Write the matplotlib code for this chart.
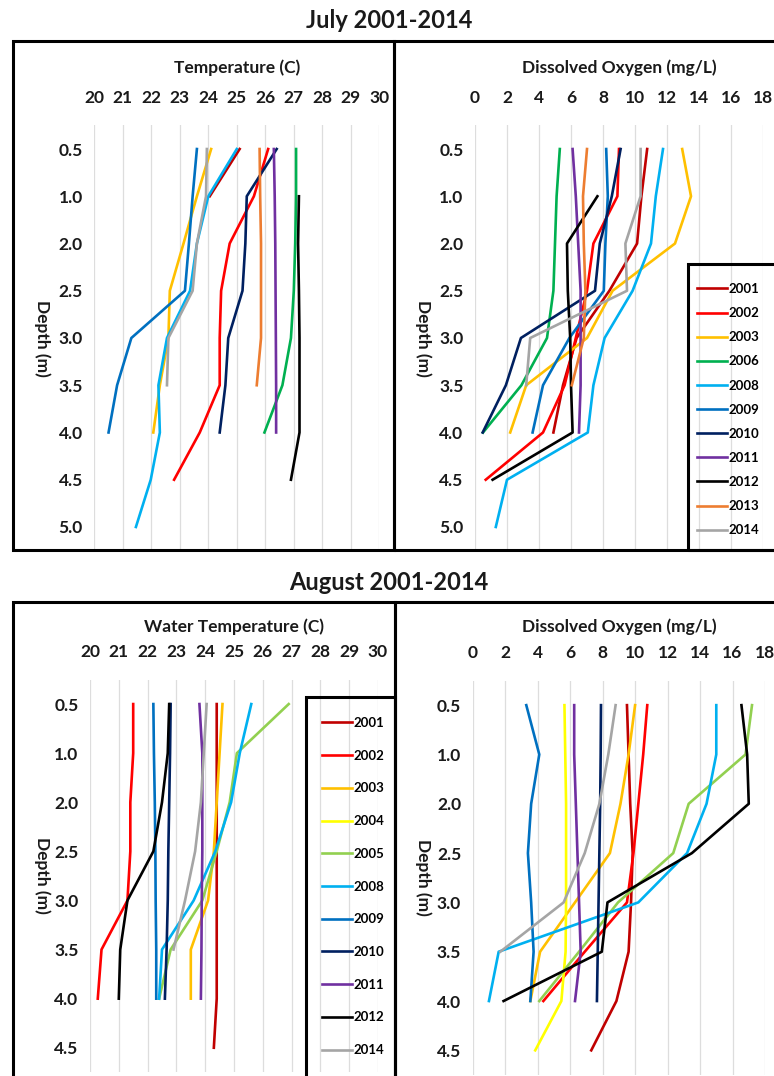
import numpy as np
import matplotlib
matplotlib.use("Agg")
import matplotlib.pyplot as plt
from matplotlib.patches import Rectangle

plt.rcParams['font.family'] = ['Lato', 'DejaVu Sans']
plt.rcParams['font.weight'] = 'bold'

nan = np.nan
W, H = 774, 1076

# --- data -------------------------------------------------------------
july_depth = ["0.5", "1.0", "2.0", "2.5", "3.0", "3.5", "4.0", "4.5", "5.0"]
aug_depth = ["0.5", "1.0", "2.0", "2.5", "3.0", "3.5", "4.0", "4.5"]

july_years = [2001, 2002, 2003, 2006, 2008, 2009, 2010, 2011, 2012, 2013, 2014]
aug_years = [2001, 2002, 2003, 2004, 2005, 2008, 2009, 2010, 2011, 2012, 2014]

colors = {2001: '#C00000', 2002: '#FF0000', 2003: '#FFC000', 2004: '#FFFF00',
          2005: '#92D050', 2006: '#00B050', 2008: '#00B0F0', 2009: '#0070C0',
          2010: '#002060', 2011: '#7030A0', 2012: '#000000', 2013: '#ED7D31',
          2014: '#A5A5A5'}

# July temperature (C)
jt_2001 = [25.1, 24.05, nan, nan, nan, nan, nan, nan, nan]
jt_2002 = [26.1, 25.6, 24.75, 24.45, 24.4, 24.4, 23.7, 22.8, nan]
jt_2003 = [24.1, 23.6, 23.13, 22.65, 22.6, 22.3, 22.07, nan, nan]
jt_2006 = [27.08, 27.08, 27.05, 27.0, 26.9, 26.6, 25.97, nan, nan]
jt_2008 = [25.0, 24.0, 23.6, 23.36, 22.55, 22.25, 22.3, 21.98, 21.46]
jt_2009 = [23.6, 23.45, 23.32, 23.18, 21.3, 20.8, 20.5, nan, nan]
jt_2010 = [26.4, 25.35, 25.3, 25.2, 24.7, 24.6, 24.4, nan, nan]
jt_2011 = [26.3, 26.33, 26.35, 26.36, 26.37, 26.38, 26.38, nan, nan]
jt_2012 = [nan, 27.18, 27.15, 27.18, 27.2, 27.2, 27.2, 26.9, nan]
jt_2013 = [25.8, 25.82, 25.85, 25.85, 25.85, 25.7, nan, nan, nan]
jt_2014 = [23.95, 23.92, 23.6, 23.45, 22.6, 22.55, nan, nan, nan]

# July dissolved oxygen (mg/L)
jd_2001 = [10.76, 10.4, 10.13, 8.4, 6.35, 5.5, 4.9, nan, nan]
jd_2002 = [9.0, 8.9, 7.4, 7.0, 6.3, 5.6, 4.25, 0.67, nan]
jd_2003 = [12.95, 13.5, 12.5, 8.6, 7.0, 3.2, 2.2, nan, nan]
jd_2006 = [5.3, 5.1, 5.0, 4.9, 4.5, 2.9, 0.5, nan, nan]
jd_2008 = [11.75, 11.3, 11.0, 9.85, 8.1, 7.4, 7.05, 2.0, 1.3]
jd_2009 = [8.2, 8.3, 8.15, 8.05, 5.9, 4.25, 3.6, nan, nan]
jd_2010 = [9.1, 8.55, 7.8, 7.5, 2.87, 1.93, 0.48, nan, nan]
jd_2011 = [6.1, 6.3, 6.45, 6.6, 6.6, 6.6, 6.5, nan, nan]
jd_2012 = [nan, 7.65, 5.75, 5.8, 5.95, 6.0, 6.1, 1.1, nan]
jd_2013 = [7.0, 6.75, 6.8, 6.9, 6.8, 6.05, nan, nan, nan]
jd_2014 = [10.35, 10.35, 9.4, 9.5, 3.45, 3.2, nan, nan, nan]

# August water temperature (C)
at_2001 = [24.4, 24.4, 24.4, 24.4, 24.4, 24.4, 24.4, 24.3]
at_2002 = [21.5, 21.5, 21.4, 21.4, 21.3, 20.4, 20.27, nan]
at_2003 = [24.6, 24.5, 24.4, 24.3, 24.1, 23.5, 23.5, nan]
at_2004 = [nan, nan, nan, nan, nan, nan, nan, nan]
at_2005 = [26.9, 25.1, 24.85, 24.4, 23.9, 22.8, 22.4, nan]
at_2008 = [25.6, 25.2, 24.9, 24.35, 23.6, 22.5, 22.4, nan]
at_2009 = [22.2, 22.22, 22.25, 22.27, 22.28, 22.3, 22.3, nan]
at_2010 = [22.8, 22.78, 22.75, 22.72, 22.7, 22.66, 22.6, nan]
at_2011 = [23.8, 23.9, 23.9, 23.9, 23.88, 23.87, 23.85, nan]
at_2012 = [22.75, 22.7, 22.5, 22.2, 21.3, 21.05, 21.0, nan]
at_2014 = [24.05, 23.95, 23.85, 23.65, 23.3, 22.9, nan, nan]

# August dissolved oxygen (mg/L)
ad_2001 = [9.5, 9.6, 9.7, 9.85, 9.75, 9.6, 8.85, 7.3]
ad_2002 = [10.75, 10.5, 10.2, 9.9, 9.5, 6.9, 4.35, nan]
ad_2003 = [10.0, 9.6, 9.1, 8.45, 6.3, 4.15, 3.55, nan]
ad_2004 = [5.65, 5.7, 5.75, 5.75, 5.75, 5.72, 5.46, 3.85]
ad_2005 = [17.2, 16.8, 13.3, 12.35, 8.95, 6.55, 4.1, nan]
ad_2008 = [15.0, 15.0, 14.4, 13.2, 10.2, 1.6, 1.0, nan]
ad_2009 = [3.3, 4.1, 3.6, 3.4, 3.6, 3.75, 3.55, nan]
ad_2010 = [7.9, 7.88, 7.85, 7.8, 7.75, 7.7, 7.65, nan]
ad_2011 = [6.25, 6.25, 6.35, 6.45, 6.55, 6.65, 6.3, nan]
ad_2012 = [16.55, 16.9, 17.0, 13.5, 8.3, 7.95, 1.9, nan]
ad_2014 = [8.8, 8.35, 7.8, 6.9, 5.6, 1.7, nan, nan]

july_temp = [jt_2001, jt_2002, jt_2003, jt_2006, jt_2008, jt_2009, jt_2010, jt_2011, jt_2012, jt_2013, jt_2014]
july_do = [jd_2001, jd_2002, jd_2003, jd_2006, jd_2008, jd_2009, jd_2010, jd_2011, jd_2012, jd_2013, jd_2014]
aug_temp = [at_2001, at_2002, at_2003, at_2004, at_2005, at_2008, at_2009, at_2010, at_2011, at_2012, at_2014]
aug_do = [ad_2001, ad_2002, ad_2003, ad_2004, ad_2005, ad_2008, ad_2009, ad_2010, ad_2011, ad_2012, ad_2014]

# --- figure -----------------------------------------------------------
fig = plt.figure(figsize=(W / 100, H / 100), dpi=100)


def px_axes(left, top, right, bottom):
    return fig.add_axes([left / W, 1 - bottom / H, (right - left) / W, (bottom - top) / H])


def px_rect(left, top, right, bottom, lw=2.2):
    r = Rectangle((left / W, 1 - bottom / H), (right - left) / W, (bottom - top) / H,
                  transform=fig.transFigure, fill=False, edgecolor='black', lw=lw,
                  zorder=10, clip_on=False)
    fig.add_artist(r)


def panel(ax, depths, years, series, xlim, xstep, xlabel):
    y = np.arange(len(depths))
    for yr, vals in zip(years, series):
        ax.plot(vals, y, color=colors[yr], lw=1.9, label=str(yr))
    ax.set_xlim(*xlim)
    ax.set_xticks(np.arange(xlim[0], xlim[1] + 0.1, xstep))
    ax.set_ylim(len(depths) - 0.5, -0.5)
    ax.set_yticks(y)
    ax.set_yticklabels(depths)
    ax.xaxis.tick_top()
    ax.tick_params(axis='x', length=0, labelsize=12.5, pad=14, colors='#1a1a1a')
    ax.tick_params(axis='y', length=0, labelsize=12.5, pad=8.3, colors='#1a1a1a')
    ax.grid(axis='x', color='#DDDDDD', lw=0.9)
    ax.set_axisbelow(True)
    for s in ax.spines.values():
        s.set_visible(False)
    ax.set_xlabel(xlabel, fontsize=12.5, fontweight='bold', color='#1a1a1a')
    ax.xaxis.set_label_position('top')
    ax.set_ylabel('Depth (m)', fontsize=12.5, fontweight='bold', rotation=270, va='center',
                  color='#1a1a1a')


# July temperature
ax1 = px_axes(94.3, 125.4, 379.3, 550.6)
panel(ax1, july_depth, july_years, july_temp, (20, 30), 1, 'Temperature (C)')
ax1.xaxis.set_label_coords(0.5, (550.6 - 73) / 425.2)
ax1.yaxis.set_label_coords((42 - 94.3) / 285, 0.5)

# July dissolved oxygen
ax2 = px_axes(475, 125.4, 763, 550.6)
panel(ax2, july_depth, july_years, july_do, (0, 18), 2, 'Dissolved Oxygen (mg/L)')
ax2.xaxis.set_label_coords(0.5, (550.6 - 73) / 425.2)
ax2.yaxis.set_label_coords((423 - 475) / 288, 0.5)
ax2.legend(loc='upper left', bbox_to_anchor=(697 / W, 1 - 283 / H), bbox_transform=fig.transFigure,
           frameon=False, fontsize=9.5, borderpad=0, borderaxespad=0, labelspacing=0.92,
           handlelength=2.3, handletextpad=0.1)

# August water temperature
ax3 = px_axes(90, 679.5, 378, 1072.3)
panel(ax3, aug_depth, aug_years, aug_temp, (20, 30), 1, 'Water Temperature (C)')
ax3.xaxis.set_label_coords(0.5, (1072.3 - 632) / 392.8)
ax3.yaxis.set_label_coords((42 - 90) / 288, 0.5)
ax3.legend(loc='upper left', bbox_to_anchor=(322 / W, 1 - 717 / H), bbox_transform=fig.transFigure,
           frameon=False, fontsize=9.5, borderpad=0, borderaxespad=0, labelspacing=1.57,
           handlelength=2.3, handletextpad=0.1)

# August dissolved oxygen
ax4 = px_axes(472.7, 680.5, 765, 1075)
panel(ax4, aug_depth, aug_years, aug_do, (0, 18), 2, 'Dissolved Oxygen (mg/L)')
ax4.xaxis.set_label_coords(0.5, (1075 - 632) / 394.5)
ax4.yaxis.set_label_coords((423 - 472.7) / 292.3, 0.5)

# frames and legend boxes
px_rect(13, 41, 394, 550)
px_rect(394, 41, 800, 550)
px_rect(13, 602, 395, 1100)
px_rect(395, 602, 800, 1100)
px_rect(688, 264, 800, 550)
px_rect(306, 697, 395, 1100)

fig.text(389 / W, 1 - 21 / H, 'July 2001-2014', ha='center', va='center', fontsize=17,
         fontweight='bold', color='#1a1a1a')
fig.text(389 / W, 1 - 582 / H, 'August 2001-2014', ha='center', va='center', fontsize=17,
         fontweight='bold', color='#1a1a1a')

fig.savefig('out.png', dpi=100)
